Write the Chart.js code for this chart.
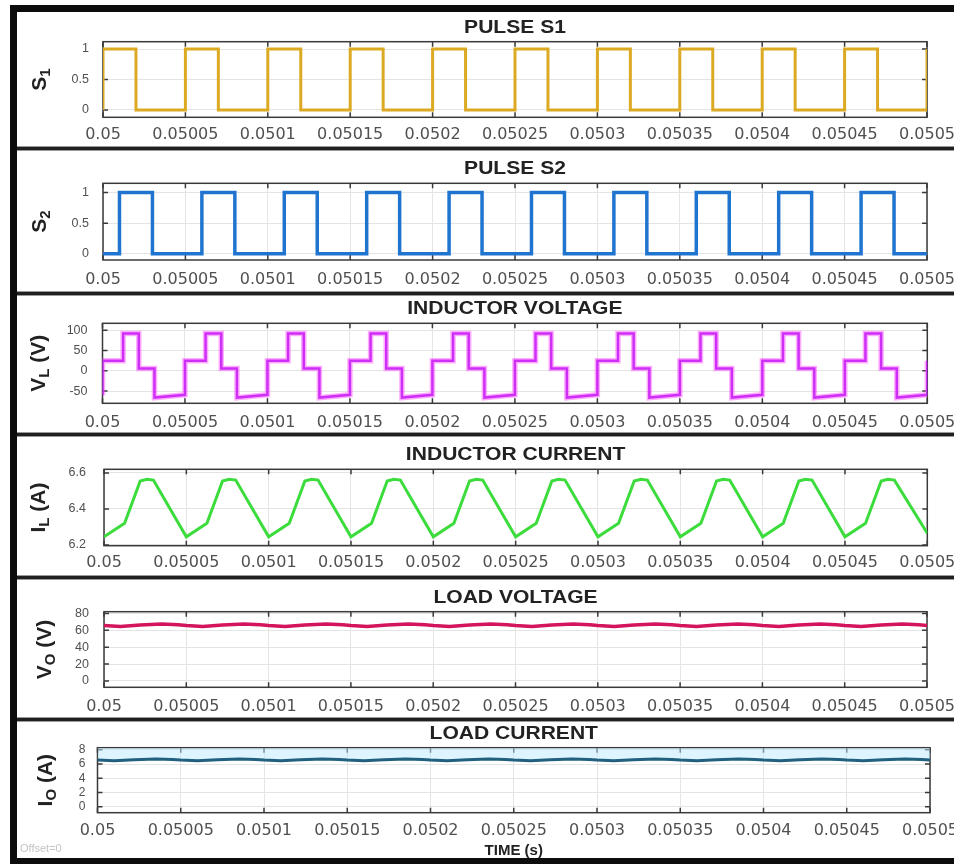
<!DOCTYPE html>
<html>
<head>
<meta charset="utf-8">
<title>Converter waveforms</title>
<script src="https://cdn.jsdelivr.net/npm/chart.js@4.4.1/dist/chart.umd.min.js"></script>
<style>
  html, body { margin: 0; padding: 0; background: #fff; }
  #stage { position: relative; width: 954px; height: 864px; overflow: hidden; background: #fff; }
  #stage canvas { position: absolute; left: 0; top: 0; }
  .bar { position: absolute; background: #0c0c0c; }
  .sep { position: absolute; left: 17px; width: 937px; height: 3px; background: #202020;
         border-top: 1px solid #9a9a9a; border-bottom: 1px solid #9a9a9a; }
</style>
</head>
<body>
<div id="stage">
  <div class="bar" style="left:10px;top:5px;width:7px;height:859px"></div>
  <div class="bar" style="left:10px;top:5px;width:944px;height:7px"></div>
  <div class="bar" style="left:10px;top:858px;width:944px;height:6px"></div>
  <div class="sep" style="top:146px"></div>
  <div class="sep" style="top:291px"></div>
  <div class="sep" style="top:432px"></div>
  <div class="sep" style="top:575px"></div>
  <div class="sep" style="top:717px"></div>
</div>
<script>
// Time axis: microseconds after t = 0.05 s, labelled in seconds.
const xTickUs = [0, 50, 100, 150, 200, 250, 300, 350, 400, 450, 500];
const xTickLabels = ['0.05', '0.05005', '0.0501', '0.05015', '0.0502', '0.05025',
                     '0.0503', '0.05035', '0.0504', '0.05045', '0.0505'];

// Gate pulse S1 (value holds from each time until the next one)
const s1TimeUs = [0, 0, 20, 50, 70, 100, 120, 150, 170, 200, 220, 250, 270, 300, 320, 350, 370, 400, 420, 450, 470, 500];
const s1Value  = [0, 1, 0, 1, 0, 1, 0, 1, 0, 1, 0, 1, 0, 1, 0, 1, 0, 1, 0, 1, 0, 1];

// Gate pulse S2
const s2TimeUs = [0, 10, 30, 60, 80, 110, 130, 160, 180, 210, 230, 260, 280, 310, 330, 360, 380, 410, 430, 460, 480, 500];
const s2Value  = [0, 1, 0, 1, 0, 1, 0, 1, 0, 1, 0, 1, 0, 1, 0, 1, 0, 1, 0, 1, 0, 0];

// Inductor voltage (V), corner points of the staircase
const vlTimeUs = [
  0,
  0, 12.5, 12.5, 22, 22, 31.5, 31.5, 50,
  50, 62.5, 62.5, 72, 72, 81.5, 81.5, 100,
  100, 112.5, 112.5, 122, 122, 131.5, 131.5, 150,
  150, 162.5, 162.5, 172, 172, 181.5, 181.5, 200,
  200, 212.5, 212.5, 222, 222, 231.5, 231.5, 250,
  250, 262.5, 262.5, 272, 272, 281.5, 281.5, 300,
  300, 312.5, 312.5, 322, 322, 331.5, 331.5, 350,
  350, 362.5, 362.5, 372, 372, 381.5, 381.5, 400,
  400, 412.5, 412.5, 422, 422, 431.5, 431.5, 450,
  450, 462.5, 462.5, 472, 472, 481.5, 481.5, 500,
  500
];
const vlValue = [
  -60,
  25, 25, 92, 92, 6, 6, -66, -59,
  25, 25, 92, 92, 6, 6, -66, -59,
  25, 25, 92, 92, 6, 6, -66, -59,
  25, 25, 92, 92, 6, 6, -66, -59,
  25, 25, 92, 92, 6, 6, -66, -59,
  25, 25, 92, 92, 6, 6, -66, -59,
  25, 25, 92, 92, 6, 6, -66, -59,
  25, 25, 92, 92, 6, 6, -66, -59,
  25, 25, 92, 92, 6, 6, -66, -59,
  25, 25, 92, 92, 6, 6, -66, -59,
  25
];

// Inductor current (A)
const ilTimeUs = [
  0, 12.5, 22, 26, 30,
  50, 62.5, 72, 76, 80,
  100, 112.5, 122, 126, 130,
  150, 162.5, 172, 176, 180,
  200, 212.5, 222, 226, 230,
  250, 262.5, 272, 276, 280,
  300, 312.5, 322, 326, 330,
  350, 362.5, 372, 376, 380,
  400, 412.5, 422, 426, 430,
  450, 462.5, 472, 476, 480,
  500
];
const ilValue = [
  6.245, 6.32, 6.555, 6.565, 6.56,
  6.245, 6.32, 6.555, 6.565, 6.56,
  6.245, 6.32, 6.555, 6.565, 6.56,
  6.245, 6.32, 6.555, 6.565, 6.56,
  6.245, 6.32, 6.555, 6.565, 6.56,
  6.245, 6.32, 6.555, 6.565, 6.56,
  6.245, 6.32, 6.555, 6.565, 6.56,
  6.245, 6.32, 6.555, 6.565, 6.56,
  6.245, 6.32, 6.555, 6.565, 6.56,
  6.245, 6.32, 6.555, 6.565, 6.56,
  6.265
];

// Load voltage (V) and load current (A)
const loadTimeUs = [
  0, 10, 22, 35, 45,
  50, 60, 72, 85, 95,
  100, 110, 122, 135, 145,
  150, 160, 172, 185, 195,
  200, 210, 222, 235, 245,
  250, 260, 272, 285, 295,
  300, 310, 322, 335, 345,
  350, 360, 372, 385, 395,
  400, 410, 422, 435, 445,
  450, 460, 472, 485, 495,
  500
];
const voValue = [
  65.6, 64.6, 66.2, 67.3, 66.6,
  65.6, 64.6, 66.2, 67.3, 66.6,
  65.6, 64.6, 66.2, 67.3, 66.6,
  65.6, 64.6, 66.2, 67.3, 66.6,
  65.6, 64.6, 66.2, 67.3, 66.6,
  65.6, 64.6, 66.2, 67.3, 66.6,
  65.6, 64.6, 66.2, 67.3, 66.6,
  65.6, 64.6, 66.2, 67.3, 66.6,
  65.6, 64.6, 66.2, 67.3, 66.6,
  65.6, 64.6, 66.2, 67.3, 66.6,
  65.6
];
const ioValue = [
  6.56, 6.46, 6.61, 6.72, 6.65,
  6.56, 6.46, 6.61, 6.72, 6.65,
  6.56, 6.46, 6.61, 6.72, 6.65,
  6.56, 6.46, 6.61, 6.72, 6.65,
  6.56, 6.46, 6.61, 6.72, 6.65,
  6.56, 6.46, 6.61, 6.72, 6.65,
  6.56, 6.46, 6.61, 6.72, 6.65,
  6.56, 6.46, 6.61, 6.72, 6.65,
  6.56, 6.46, 6.61, 6.72, 6.65,
  6.56, 6.46, 6.61, 6.72, 6.65,
  6.56
];

// Y-axis ticks of each panel
const s1Ticks = [0, 0.5, 1];
const s2Ticks = [0, 0.5, 1];
const vlTicks = [-50, 0, 50, 100];
const ilTicks = [6.2, 6.4, 6.6];
const voTicks = [0, 20, 40, 60, 80];
const ioTicks = [0, 2, 4, 6, 8];

const W = 954, H = 864;
const TICK_COLOR = '#505050';

function pts(t, v) { return t.map((x, i) => ({ x, y: v[i] })); }

// Box around the axes, inward tick marks, panel title and y-axis label
const axesDecor = {
  id: 'axesDecor',
  beforeDatasetsDraw(chart, args, o) {
    const { ctx, chartArea: a, scales: { x, y } } = chart;
    ctx.save();
    ctx.strokeStyle = '#3a3a3a';
    ctx.lineWidth = 1.5;
    ctx.strokeRect(a.left, a.top, a.right - a.left, a.bottom - a.top);
    ctx.beginPath();
    const tl = 5;
    x.ticks.forEach(t => {
      const px = x.getPixelForValue(t.value);
      ctx.moveTo(px, a.bottom); ctx.lineTo(px, a.bottom - tl);
      ctx.moveTo(px, a.top); ctx.lineTo(px, a.top + tl);
    });
    y.ticks.forEach(t => {
      const py = y.getPixelForValue(t.value);
      ctx.moveTo(a.left, py); ctx.lineTo(a.left + tl, py);
      ctx.moveTo(a.right, py); ctx.lineTo(a.right - tl, py);
    });
    ctx.stroke();
    ctx.restore();
  },
  afterDraw(chart, args, o) {
    const { ctx, chartArea: a } = chart;
    ctx.save();
    ctx.fillStyle = '#222';
    // title, slightly widened
    ctx.translate((a.left + a.right) / 2, a.top - 14);
    ctx.scale(1.17, 1);
    ctx.font = 'bold 18px "Liberation Sans", Arial, sans-serif';
    ctx.textAlign = 'center';
    ctx.textBaseline = 'middle';
    ctx.fillText(o.title, 0, 0);
    ctx.restore();

    // rotated y label with subscript
    ctx.save();
    ctx.fillStyle = '#222';
    ctx.translate(o.labelX, (a.top + a.bottom) / 2);
    ctx.rotate(-Math.PI / 2);
    ctx.textBaseline = 'middle';
    ctx.textAlign = 'left';
    const main = 'bold 21px "Liberation Sans", Arial, sans-serif';
    const sub = 'bold 15px "Liberation Sans", Arial, sans-serif';
    let total = 0;
    o.label.forEach(p => { ctx.font = p.sub ? sub : main; total += ctx.measureText(p.t).width; });
    let cur = -total / 2;
    o.label.forEach(p => {
      ctx.font = p.sub ? sub : main;
      ctx.fillText(p.t, cur, p.sub ? 6 : 0);
      cur += ctx.measureText(p.t).width;
    });
    ctx.restore();

    if (o.footer) {
      ctx.save();
      ctx.textAlign = 'center';
      ctx.textBaseline = 'middle';
      ctx.fillStyle = '#222';
      ctx.font = 'bold 15px "Liberation Sans", Arial, sans-serif';
      ctx.fillText('TIME (s)', (a.left + a.right) / 2, 851);
      ctx.fillStyle = '#c4c4c4';
      ctx.textAlign = 'left';
      ctx.font = '11px "Liberation Sans", Arial, sans-serif';
      ctx.fillText('Offset=0', 20, 849);
      ctx.restore();
    }
  }
};

function panel(p) {
  const canvas = document.createElement('canvas');
  canvas.width = W; canvas.height = H;
  document.getElementById('stage').appendChild(canvas);
  const flatten = s => { s.paddingLeft = 0; s.paddingRight = 0; s.paddingTop = 0; s.paddingBottom = 0; };
  new Chart(canvas, {
    type: 'line',
    data: { datasets: p.datasets },
    options: {
      responsive: false,
      animation: false,
      events: [],
      // the y scale fills the strip left of the plot, the x scale the strip below it
      layout: { padding: { left: 0, right: W - p.box[1], top: p.box[2], bottom: 0 } },
      plugins: {
        legend: { display: false },
        tooltip: { enabled: false },
        title: { display: false },
        filler: { propagate: false },
        axesDecor: { title: p.title, label: p.label, labelX: p.labelX, footer: !!p.footer }
      },
      scales: {
        x: {
          type: 'linear', min: 0, max: 500,
          afterFit(s) { s.height = H - p.box[3]; flatten(s); },
          afterBuildTicks(s) { s.ticks = xTickUs.map(v => ({ value: v })); },
          ticks: {
            autoSkip: false, maxRotation: 0, minRotation: 0, padding: p.xPad,
            color: TICK_COLOR,
            font: { family: '"DejaVu Sans", sans-serif', size: 16 },
            callback: (v, i) => xTickLabels[i]
          },
          grid: { color: '#e4e4e4', lineWidth: 1, drawTicks: false },
          border: { display: false }
        },
        y: {
          type: 'linear', min: p.yMin, max: p.yMax,
          afterFit(s) { s.width = p.box[0]; flatten(s); },
          afterBuildTicks(s) { s.ticks = p.yTicks.map(v => ({ value: v })); },
          ticks: {
            autoSkip: false,
            padding: p.yPad,
            color: TICK_COLOR,
            font: { family: '"Liberation Sans", Arial, sans-serif', size: p.yFont || 12.5 },
            callback: (v, i) => String(p.yTicks[i])
          },
          grid: { color: '#e4e4e4', lineWidth: 1, drawTicks: false },
          border: { display: false }
        }
      }
    },
    plugins: [axesDecor]
  });
}

const line = (data, color, width, extra) => Object.assign({
  data, borderColor: color, borderWidth: width, pointRadius: 0, tension: 0, fill: false
}, extra || {});

panel({
  box: [103, 927, 41.7, 117.3], yMin: -0.12, yMax: 1.12, yTicks: s1Ticks, xPad: 8, yPad: 14,
  title: 'PULSE S1', label: [{ t: 'S' }, { t: '1', sub: true }], labelX: 40,
  datasets: [line(pts(s1TimeUs, s1Value), '#dcaa22', 3, { stepped: 'before' })]
});
panel({
  box: [103, 927, 183.3, 260], yMin: -0.1, yMax: 1.15, yTicks: s2Ticks, xPad: 10, yPad: 14,
  title: 'PULSE S2', label: [{ t: 'S' }, { t: '2', sub: true }], labelX: 40,
  datasets: [line(pts(s2TimeUs, s2Value), '#1f74d0', 3.5, { stepped: 'before' })]
});
panel({
  box: [102.5, 927.3, 323.3, 403.3], yMin: -80, yMax: 117, yTicks: vlTicks, xPad: 10, yPad: 15,
  title: 'INDUCTOR VOLTAGE', label: [{ t: 'V' }, { t: 'L', sub: true }, { t: ' (V)' }], labelX: 39,
  datasets: [
    line(pts(vlTimeUs, vlValue), 'rgba(255,70,255,0.45)', 5.5),
    line(pts(vlTimeUs, vlValue), '#a41cf0', 2.5)
  ]
});
panel({
  box: [104, 927.3, 469.3, 545.7], yMin: 6.196, yMax: 6.62, yTicks: ilTicks, xPad: 8, yPad: 18,
  title: 'INDUCTOR CURRENT', label: [{ t: 'I' }, { t: 'L', sub: true }, { t: ' (A)' }], labelX: 39,
  datasets: [line(pts(ilTimeUs, ilValue), '#3ddc3d', 3)]
});
panel({
  box: [104, 927, 611.7, 687.3], yMin: -7.5, yMax: 82, yTicks: voTicks, xPad: 10, yPad: 15,
  title: 'LOAD VOLTAGE', label: [{ t: 'V' }, { t: 'O', sub: true }, { t: ' (V)' }], labelX: 45,
  datasets: [line(pts(loadTimeUs, voValue), '#d4145c', 3.5)]
});
panel({
  box: [97.5, 930, 747.7, 812.7], yMin: -0.85, yMax: 8.3, yTicks: ioTicks, xPad: 9, yPad: 12, yFont: 12,
  title: 'LOAD CURRENT', label: [{ t: 'I' }, { t: 'O', sub: true }, { t: ' (A)' }], labelX: 46,
  footer: true,
  datasets: [line(pts(loadTimeUs, ioValue), '#22607f', 3,
                  { fill: 'end', backgroundColor: 'rgba(190,236,255,0.5)' })]
});
</script>
</body>
</html>
